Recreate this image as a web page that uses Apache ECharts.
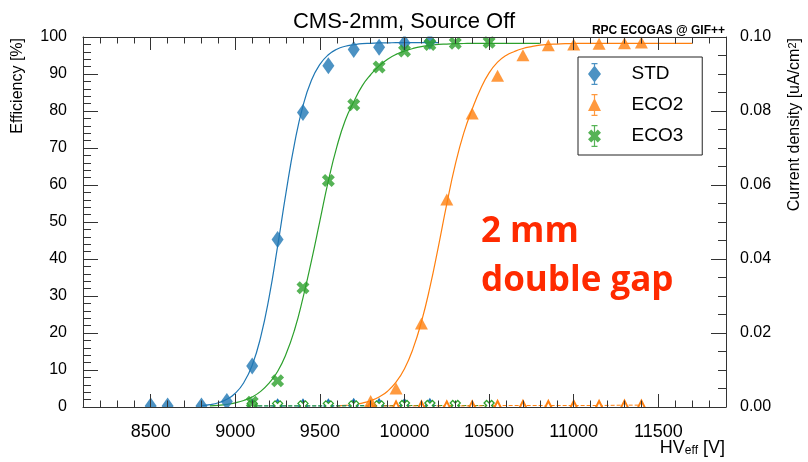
<!DOCTYPE html>
<html><head><meta charset="utf-8">
<script src="https://cdn.jsdelivr.net/npm/echarts@6/dist/echarts.min.js"></script>
<style>html,body{margin:0;padding:0;background:#fff}#c{width:808px;height:462px}</style>
</head><body><div id="c"></div>
<script>
// ---- data ----
const hvSTD   = [8500, 8600, 8800, 8950, 9100, 9250, 9400, 9550, 9700, 9850, 10000, 10150];
const effSTD  = [0.3, 0.3, 0.3, 1.5, 11.1, 45.3, 79.6, 92.2, 96.6, 97.2, 98.4, 98.8];
const hvECO2  = [9800, 9950, 10100, 10250, 10400, 10550, 10700, 10850, 11000, 11150, 11300, 11400];
const effECO2 = [1.6, 5.0, 22.6, 56.1, 79.3, 89.5, 95.1, 97.8, 98.0, 98.2, 98.3, 98.5];
const hvECO3  = [9100, 9250, 9400, 9550, 9700, 9850, 10000, 10150, 10300, 10500];
const effECO3 = [1.3, 7.1, 32.2, 61.2, 81.7, 91.9, 96.2, 98.0, 98.3, 98.6];

// fitted curves (every 50 V)
const fitHvSTD = [8800, 8850, 8900, 8950, 9000, 9050, 9100, 9150, 9200, 9250, 9300, 9350, 9400, 9450, 9500, 9550, 9600, 9650, 9700, 9750, 9800, 9850, 9900, 9950, 10000, 10050, 10100, 10150, 10200];
const fitSTD   = [0.35, 0.63, 1.15, 2.07, 3.72, 6.57, 11.3, 18.9, 29.7, 43.4, 58.0, 71.2, 81.4, 88.3, 92.6, 95.2, 96.7, 97.5, 97.9, 98.2, 98.3, 98.4, 98.4, 98.5, 98.5, 98.5, 98.5, 98.5, 98.5];
const fitHvECO3 = [8850, 8900, 8950, 9000, 9050, 9100, 9150, 9200, 9250, 9300, 9350, 9400, 9450, 9500, 9550, 9600, 9650, 9700, 9750, 9800, 9850, 9900, 9950, 10000, 10050, 10100, 10150, 10200, 10250, 10300, 10350, 10400, 10450, 10500, 10550, 10600, 10650, 10700, 10750, 10800];
const fitECO3   = [0.30, 0.46, 0.72, 1.13, 1.76, 2.73, 4.22, 6.47, 9.6, 14.3, 20.8, 29.5, 39.5, 50.3, 61.1, 70.3, 77.5, 82.5, 86.8, 89.8, 92.2, 94.0, 95.3, 96.2, 96.9, 97.4, 97.7, 98.0, 98.1, 98.2, 98.25, 98.3, 98.3, 98.3, 98.3, 98.3, 98.3, 98.3, 98.3, 98.3];
const fitHvECO2 = [9600, 9650, 9700, 9750, 9800, 9850, 9900, 9950, 10000, 10050, 10100, 10150, 10200, 10250, 10300, 10350, 10400, 10450, 10500, 10550, 10600, 10650, 10700, 10750, 10800, 10850, 10900, 10950, 11000, 11050, 11100, 11150, 11200, 11250, 11300, 11350, 11400, 11450, 11500, 11550, 11600, 11650, 11700];
const fitECO2   = [0.26, 0.42, 0.66, 1.06, 1.70, 2.71, 4.27, 6.73, 10.35, 15.7, 23.0, 32.3, 43.3, 54.9, 65.5, 74.0, 80.5, 86.0, 90.3, 93.2, 95.0, 96.1, 96.9, 97.4, 97.8, 98.0, 98.1, 98.2, 98.25, 98.3, 98.3, 98.3, 98.3, 98.3, 98.3, 98.3, 98.3, 98.3, 98.3, 98.3, 98.3, 98.3, 98.3];

// current density (right axis)
const curHvSTD  = [9100, 9250, 9400, 9550, 9700, 9850, 10000, 10150];
const curSTD    = [0.0003, 0.0003, 0.0003, 0.0003, 0.0004, 0.0004, 0.0004, 0.0004];
const curHvECO3 = [9100, 9250, 9400, 9550, 9700, 9850, 10000, 10150, 10300, 10500];
const curECO3   = [0.0003, 0.0003, 0.0003, 0.0003, 0.0003, 0.0003, 0.0004, 0.0004, 0.0004, 0.0004];
const curHvECO2 = [9800, 9950, 10100, 10250, 10400, 10550, 10700, 10850, 11000, 11150, 11300, 11400];
const curECO2   = [0.0003, 0.0003, 0.0003, 0.0003, 0.0003, 0.0004, 0.0004, 0.0004, 0.0004, 0.0004, 0.0005, 0.0005];

// tick labels
const xTickLabels  = [8500, 9000, 9500, 10000, 10500, 11000, 11500];
const yTickLabels  = [0, 10, 20, 30, 40, 50, 60, 70, 80, 90, 100];
const y2TickLabels = [0, 0.02, 0.04, 0.06, 0.08, 0.1];

// ---- chart ----
const zip = (a, b) => a.map((v, i) => [v, b[i]]);
const BLUE = '#1f77b4', ORANGE = '#ff7f0e', GREEN = '#2ca02c';
const AX = '#333';
const FONT = '"Liberation Sans", Arial, Helvetica, sans-serif';
const XPATH = 'path://M2.5,0L5,2.5L7.5,0L10,2.5L7.5,5L10,7.5L7.5,10L5,7.5L2.5,10L0,7.5L2.5,5L0,2.5Z';

const iconSTD  = 'path://M6.4,0L7.6,0L7.6,22L6.4,22Z M4,0L10,0L10,1.2L4,1.2Z M4,20.8L10,20.8L10,22L4,22Z M7,2.5L13.5,11L7,19.5L0.5,11Z';
const iconECO2 = 'path://M6.4,0L7.6,0L7.6,22L6.4,22Z M4,0L10,0L10,1.2L4,1.2Z M4,20.8L10,20.8L10,22L4,22Z M7,4L13.5,17L0.5,17Z';
const iconECO3 = 'path://M6.4,0L7.6,0L7.6,22L6.4,22Z M4,0L10,0L10,1.2L4,1.2Z M4,20.8L10,20.8L10,22L4,22Z M3.75,4.5L7,7.75L10.25,4.5L13.5,7.75L10.25,11L13.5,14.25L10.25,17.5L7,14.25L3.75,17.5L0.5,14.25L3.75,11L0.5,7.75Z';

function xAxisDef(pos, major, showLine, showLabel) {
  return {
    type: 'value', position: pos, min: 8100, max: 11900, interval: 100, z: 60,
    axisLine: { show: showLine, onZero: false, lineStyle: { color: AX, width: 1 } },
    axisTick: major
      ? { show: true, inside: true, length: 13, customValues: xTickLabels, lineStyle: { color: AX } }
      : { show: true, inside: true, length: 6.5, lineStyle: { color: AX } },
    axisLabel: showLabel
      ? { show: true, customValues: xTickLabels, formatter: v => String(v), margin: 16, fontSize: 18, color: '#000', fontFamily: FONT }
      : { show: false },
    splitLine: { show: false }
  };
}
function yAxisDef(pos, min, max, interval, majorVals, major, showLine, labelVals, fmt, margin) {
  return {
    type: 'value', position: pos, min: min, max: max, interval: interval, z: 60,
    axisLine: { show: showLine, onZero: false, lineStyle: { color: AX, width: 1 } },
    axisTick: major
      ? { show: true, inside: true, length: 15, customValues: majorVals, lineStyle: { color: AX } }
      : { show: true, inside: true, length: 8, lineStyle: { color: AX } },
    axisLabel: labelVals
      ? { show: true, customValues: labelVals, formatter: fmt, margin: margin, fontSize: 16, color: '#000', fontFamily: FONT }
      : { show: false },
    splitLine: { show: false }
  };
}

const chart = echarts.init(document.getElementById('c'), null, { renderer: 'canvas' });
chart.setOption({
  backgroundColor: '#fff',
  animation: false,
  title: {
    text: 'CMS-2mm, Source Off', left: 'center', top: 6, z: 70,
    textStyle: { fontSize: 22, fontWeight: 'normal', color: '#000', fontFamily: FONT }
  },
  grid: { left: 83, right: 82, top: 37, bottom: 55, containLabel: false },
  legend: {
    data: [{ name: 'STD', icon: iconSTD }, { name: 'ECO2', icon: iconECO2 }, { name: 'ECO3', icon: iconECO3 }],
    orient: 'vertical', left: 578, top: 57,
    itemWidth: 14, itemHeight: 22, itemGap: 9,
    padding: [6, 19, 8, 10],
    borderColor: '#222', borderWidth: 1, backgroundColor: '#fff',
    selectedMode: false,
    formatter: n => '{t|' + n + '}',
    textStyle: { fontSize: 19, color: '#000', fontFamily: FONT,
      rich: { t: { fontSize: 19, color: '#000', fontFamily: FONT, lineHeight: 22, padding: [0, 0, 0, 25] } } }
  },
  xAxis: [
    xAxisDef('bottom', false, true, true),
    xAxisDef('bottom', true, false, false),
    xAxisDef('top', false, true, false),
    xAxisDef('top', true, false, false)
  ],
  yAxis: [
    yAxisDef('left', 0, 100, 2, null, false, true, yTickLabels, v => String(v), 16),
    yAxisDef('left', 0, 100, 2, yTickLabels, true, false, null),
    yAxisDef('right', 0, 0.1, 0.005, null, false, true, y2TickLabels, v => v.toFixed(2), 14),
    yAxisDef('right', 0, 0.1, 0.005, y2TickLabels, true, false, null)
  ],
  series: [
    { type: 'line', name: 'STD fit', data: zip(fitHvSTD, fitSTD), smooth: 0.5, symbol: 'none', silent: true,
      lineStyle: { color: BLUE, width: 1.2 }, xAxisIndex: 0, yAxisIndex: 0, z: 2 },
    { type: 'line', name: 'ECO3 fit', data: zip(fitHvECO3, fitECO3), smooth: 0.5, symbol: 'none', silent: true,
      lineStyle: { color: GREEN, width: 1.2 }, xAxisIndex: 0, yAxisIndex: 0, z: 2 },
    { type: 'line', name: 'ECO2 fit', data: zip(fitHvECO2, fitECO2), smooth: 0.5, symbol: 'none', silent: true,
      lineStyle: { color: ORANGE, width: 1.2 }, xAxisIndex: 0, yAxisIndex: 0, z: 2 },

    { type: 'line', name: 'STD current', data: zip(curHvSTD, curSTD), yAxisIndex: 2, xAxisIndex: 0,
      symbol: 'emptyDiamond', symbolSize: [8, 12], showAllSymbol: true,
      lineStyle: { color: BLUE, width: 1, type: 'dashed' }, itemStyle: { color: BLUE, borderWidth: 1.2 }, z: 3 },
    { type: 'line', name: 'ECO3 current', data: zip(curHvECO3, curECO3), yAxisIndex: 2, xAxisIndex: 0,
      symbol: XPATH, symbolSize: 10, showAllSymbol: true,
      lineStyle: { color: GREEN, width: 1, type: 'dashed' }, itemStyle: { color: '#fff', borderColor: GREEN, borderWidth: 1.3 }, z: 3 },
    { type: 'line', name: 'ECO2 current', data: zip(curHvECO2, curECO2), yAxisIndex: 2, xAxisIndex: 0,
      symbol: 'emptyTriangle', symbolSize: [9, 9], showAllSymbol: true,
      lineStyle: { color: ORANGE, width: 1, type: 'dashed' }, itemStyle: { color: ORANGE, borderWidth: 1.3 }, z: 3 },

    { type: 'scatter', name: 'STD', data: zip(hvSTD, effSTD), symbol: 'diamond', symbolSize: [12, 17],
      itemStyle: { color: BLUE }, xAxisIndex: 0, yAxisIndex: 0, z: 4 },
    { type: 'scatter', name: 'ECO2', data: zip(hvECO2, effECO2), symbol: 'triangle', symbolSize: [13, 12],
      itemStyle: { color: ORANGE }, xAxisIndex: 0, yAxisIndex: 0, z: 4 },
    { type: 'scatter', name: 'ECO3', data: zip(hvECO3, effECO3), symbol: XPATH, symbolSize: 13,
      itemStyle: { color: GREEN }, xAxisIndex: 0, yAxisIndex: 0, z: 5 }
  ],
  graphic: {
    elements: [
      // frame clipping bands (markers are clipped at the plot frame)
      { type: 'rect', z: 50, silent: true, shape: { x: 83, y: 407.8, width: 643, height: 16 }, style: { fill: '#fff' } },
      { type: 'rect', z: 50, silent: true, shape: { x: 83, y: 20, width: 643, height: 16.5 }, style: { fill: '#fff' } },
      { type: 'text', z: 70, x: 725, y: 31,
        style: { text: 'RPC ECOGAS @ GIF++', font: 'bold 12px ' + FONT, fill: '#000', align: 'right', verticalAlign: 'middle' } },
      { type: 'text', z: 70, x: 18, y: 38, rotation: Math.PI / 2,
        style: { text: 'Efficiency [%]', font: '16px ' + FONT, fill: '#000', align: 'right', verticalAlign: 'middle' } },
      { type: 'text', z: 70, x: 795, y: 38, rotation: Math.PI / 2,
        style: { text: '{a|Current density [uA/cm}{s|2}{a|]}', align: 'right', verticalAlign: 'middle',
          rich: { a: { fontSize: 16, fontFamily: FONT, fill: '#000' }, s: { fontSize: 11, fontFamily: FONT, fill: '#000', verticalAlign: 'top' } } } },
      { type: 'text', z: 70, x: 725, y: 448,
        style: { text: '{a|HV}{s|eff}{a| [V]}', align: 'right', verticalAlign: 'middle',
          rich: { a: { fontSize: 18, fontFamily: FONT, fill: '#000' }, s: { fontSize: 12, fontFamily: FONT, fill: '#000', verticalAlign: 'bottom' } } } },
      { type: 'text', z: 70, x: 481, y: 232,
        style: { text: '2 mm', font: 'bold 35px "Open Sans", sans-serif', fill: '#ff2a00', align: 'left', verticalAlign: 'middle' } },
      { type: 'text', z: 70, x: 481, y: 281,
        style: { text: 'double gap', font: 'bold 35px "Open Sans", sans-serif', fill: '#ff2a00', align: 'left', verticalAlign: 'middle' } }
    ]
  }
});
</script>
</body></html>
